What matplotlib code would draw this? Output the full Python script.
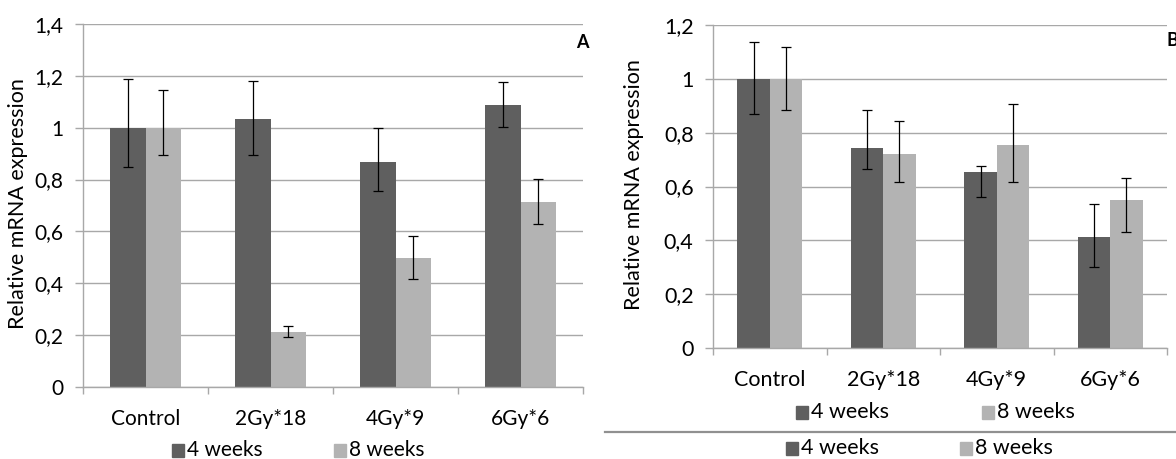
import matplotlib.pyplot as plt
import numpy as np
from matplotlib.patches import Rectangle
from matplotlib.lines import Line2D

plt.rcParams['font.family'] = ['Lato', 'DejaVu Sans']

W, H = 1176, 459
DARK = '#5f5f5f'
LIGHT = '#b3b3b3'
GRID = '#a8a8a8'

categories = ["Control", "2Gy*18", "4Gy*9", "6Gy*6"]

# panel A
a_4w = [1.0, 1.035, 0.869, 1.089]
a_4w_up = [0.186, 0.146, 0.128, 0.088]
a_4w_dn = [0.153, 0.141, 0.115, 0.085]
a_8w = [1.0, 0.212, 0.499, 0.714]
a_8w_up = [0.144, 0.025, 0.085, 0.090]
a_8w_dn = [0.106, 0.019, 0.082, 0.086]
a_ticks = [0, 0.2, 0.4, 0.6, 0.8, 1.0, 1.2, 1.4]
a_ticklabels = ["0", "0,2", "0,4", "0,6", "0,8", "1", "1,2", "1,4"]

# panel B
b_4w = [1.0, 0.744, 0.653, 0.414]
b_4w_up = [0.138, 0.141, 0.024, 0.122]
b_4w_dn = [0.130, 0.080, 0.091, 0.112]
b_8w = [1.0, 0.720, 0.754, 0.549]
b_8w_up = [0.117, 0.122, 0.153, 0.081]
b_8w_dn = [0.115, 0.105, 0.139, 0.118]
b_ticks = [0, 0.2, 0.4, 0.6, 0.8, 1.0, 1.2]
b_ticklabels = ["0", "0,2", "0,4", "0,6", "0,8", "1", "1,2"]

series_names = ["4 weeks", "8 weeks"]


def px_axes(fig, left, right, top, bottom):
    return fig.add_axes([left / W, (H - bottom) / H, (right - left) / W, (bottom - top) / H])


def draw_panel(ax, v4, up4, dn4, v8, up8, dn8, ticks, ticklabels, fs):
    x = np.arange(len(categories))
    w = 0.285
    ekw = dict(ecolor='black', elinewidth=0.9, capsize=3.6, capthick=0.9)
    ax.bar(x - w / 2, v4, w, color=DARK, yerr=[dn4, up4], error_kw=ekw, zorder=3)
    ax.bar(x + w / 2, v8, w, color=LIGHT, yerr=[dn8, up8], error_kw=ekw, zorder=3)
    ax.set_xlim(-0.5, len(categories) - 0.5)
    ax.set_ylim(0, ticks[-1])
    ax.set_yticks(ticks)
    ax.set_yticklabels(ticklabels, fontsize=fs)
    ax.set_xticks(x)
    ax.set_xticklabels(categories, fontsize=fs)
    ax.set_xticks(np.arange(-0.5, len(categories)), minor=True)
    ax.tick_params(axis='x', which='major', length=0, pad=15.5)
    ax.tick_params(axis='x', which='minor', length=5, color=GRID, width=1)
    ax.tick_params(axis='y', length=5.5, color=GRID, width=1, pad=8.5)
    ax.yaxis.grid(True, color=GRID, lw=1, zorder=0)
    ax.set_axisbelow(True)
    for s in ['top', 'right']:
        ax.spines[s].set_visible(False)
    for s in ['left', 'bottom']:
        ax.spines[s].set_color(GRID)
        ax.spines[s].set_linewidth(1)
        ax.spines[s].set_zorder(4)


def legend_row(fig, y, x_sq1, x_sq2, fs):
    for xs, col, name in [(x_sq1, DARK, series_names[0]), (x_sq2, LIGHT, series_names[1])]:
        fig.patches.append(Rectangle((xs / W, (H - y - 6.5) / H), 12 / W, 13 / H,
                                     transform=fig.transFigure, color=col))
        fig.text((xs + 15) / W, (H - y) / H, name, fontsize=fs, va='center', ha='left')


fig = plt.figure(figsize=(W / 100, H / 100), dpi=100)

axA = px_axes(fig, 83, 583, 24, 387)
draw_panel(axA, a_4w, a_4w_up, a_4w_dn, a_8w, a_8w_up, a_8w_dn, a_ticks, a_ticklabels, 15)
fig.text(18 / W, (H - 204) / H, "Relative mRNA expression", rotation=90, fontsize=15.5,
         ha='center', va='center')
fig.text(582 / W, (H - 42) / H, "A", fontsize=13, fontweight='bold', ha='center', va='center')
legend_row(fig, 450, 172, 334, 15)

axB = px_axes(fig, 713, 1167, 25, 348)
draw_panel(axB, b_4w, b_4w_up, b_4w_dn, b_8w, b_8w_up, b_8w_dn, b_ticks, b_ticklabels, 15.5)
fig.text(634 / W, (H - 185) / H, "Relative mRNA expression", rotation=90, fontsize=15.5,
         ha='center', va='center')
fig.text(1166 / W, (H - 40) / H, "B", fontsize=13, fontweight='bold', ha='left', va='center')
legend_row(fig, 412, 796, 982, 15.5)
fig.lines.append(Line2D([605 / W, 1], [(H - 432) / H] * 2, transform=fig.transFigure,
                        color='#909090', lw=1.6))
legend_row(fig, 448, 786, 960, 15.5)

fig.savefig("out.png", dpi=100)
